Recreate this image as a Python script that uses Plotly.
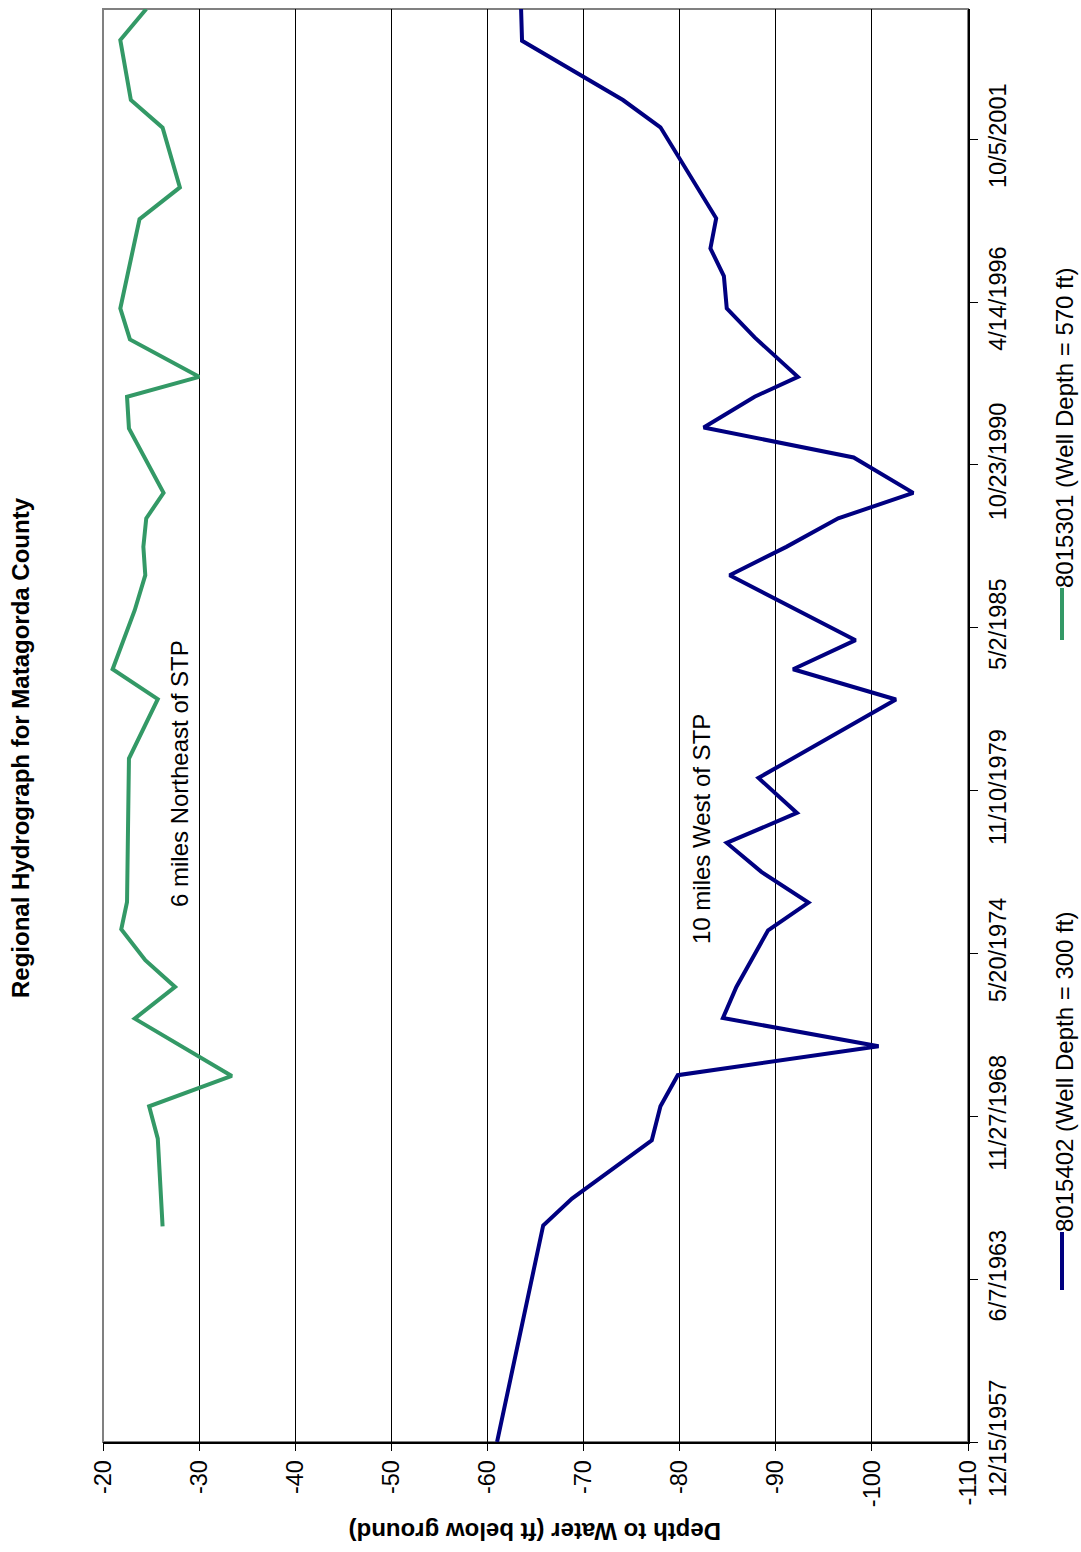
import pandas as pd
import numpy as np
import plotly.graph_objects as go

# Well 8015402 (10 miles west of STP)
dates_8015402 = [
    "1957-12-15", "1965-03-28", "1966-02-21", "1968-02-06", "1969-03-30",
    "1970-04-16", "1971-04-07", "1972-03-18", "1973-04-04", "1975-02-28",
    "1976-02-04", "1977-02-15", "1978-02-06", "1979-02-09", "1980-04-14",
    "1982-12-03", "1983-12-10", "1984-12-01", "1987-02-07", "1988-01-21",
    "1989-01-05", "1989-11-14", "1991-01-23", "1992-01-27", "1993-02-07",
    "1993-10-09", "1995-02-06", "1996-01-27", "1997-02-28", "1998-02-03",
    "1999-02-07", "2002-03-01", "2003-01-30", "2005-01-27", "2006-02-21",
]
depth_8015402 = [
    -61.0, -65.8, -68.8, -77.1, -78.0,
    -79.8, -100.7, -84.5, -85.9, -89.2,
    -93.4, -88.5, -84.9, -92.2, -88.2,
    -102.5, -91.8, -98.3, -85.2, -91.1,
    -96.5, -104.3, -98.1, -82.5, -87.8,
    -92.3, -87.8, -84.9, -84.6, -83.2,
    -83.8, -78.0, -74.1, -63.6, -63.5,
]

# Well 8015301 (6 miles northeast of STP)
dates_8015301 = [
    "1965-03-17", "1968-02-27", "1969-03-30", "1970-04-07", "1972-03-11",
    "1973-04-04", "1974-02-26", "1975-03-13", "1976-02-12", "1980-12-08",
    "1982-12-07", "1983-12-10", "1985-12-04", "1987-02-07", "1988-01-21",
    "1989-01-05", "1989-11-14", "1992-01-14", "1993-02-07", "1993-10-09",
    "1995-01-12", "1996-01-27", "1999-01-29", "2000-02-22", "2002-02-24",
    "2003-01-30", "2005-02-05", "2006-02-21",
]
depth_8015301 = [
    -26.2, -25.7, -24.8, -33.4, -23.3,
    -27.5, -24.4, -21.9, -22.5, -22.7,
    -25.7, -21.0, -23.3, -24.4, -24.2,
    -24.5, -26.3, -22.7, -22.5, -30.0,
    -22.8, -21.8, -23.8, -28.0, -26.2,
    -22.9, -21.8, -24.5,
]

series_names = ["8015402 (Well Depth = 300 ft)", "8015301 (Well Depth = 570 ft)"]
series_colors = ["#000080", "#339966"]

date_tick_labels = ["12/15/1957", "6/7/1963", "11/27/1968", "5/20/1974", "11/10/1979",
                    "5/2/1985", "10/23/1990", "4/14/1996", "10/5/2001"]
depth_ticks = [-20, -30, -40, -50, -60, -70, -80, -90, -100, -110]

date_start = pd.Timestamp("1957-12-15")
date_end = pd.Timestamp("2006-02-21")
date_tick_vals = [date_start + pd.Timedelta(days=2000 * i) for i in range(len(date_tick_labels))]

FONT = "Liberation Sans, Arial, sans-serif"

fig = go.Figure()
fig.add_trace(go.Scatter(x=depth_8015402, y=pd.to_datetime(dates_8015402), mode="lines",
                         line=dict(color=series_colors[0], width=4), name=series_names[0]))
fig.add_trace(go.Scatter(x=depth_8015301, y=pd.to_datetime(dates_8015301), mode="lines",
                         line=dict(color=series_colors[1], width=4), name=series_names[1]))

W, H = 1081, 1552
L, R, T, B = 103, 968, 9, 1442

def px(xp):
    return (xp - L) / (R - L)

def py(yp):
    return (B - yp) / (B - T)

fig.update_layout(
    width=W, height=H,
    margin=dict(l=L, r=W - R, t=T, b=H - B),
    paper_bgcolor="white", plot_bgcolor="white",
    showlegend=False,
    font=dict(family=FONT, color="black", size=24),
)

fig.update_xaxes(
    range=[-20, -110], tickvals=depth_ticks, ticktext=[str(v) for v in depth_ticks],
    tickangle=-90, tickfont=dict(size=23.5, family=FONT, color="black"),
    showgrid=True, gridcolor="black", gridwidth=1,
    showline=True, linecolor="black", linewidth=1.5,
    ticks="outside", ticklen=7, tickcolor="black", tickwidth=1,
    zeroline=False, fixedrange=True,
)
fig.update_yaxes(
    type="date", range=[date_start, date_end], side="right",
    tickvals=date_tick_vals, ticktext=date_tick_labels,
    tickangle=-90, tickfont=dict(size=23.5, family=FONT, color="black"),
    showgrid=False,
    showline=True, linecolor="black", linewidth=1.5,
    ticks="outside", ticklen=8, tickcolor="black", tickwidth=1,
    zeroline=False, fixedrange=True,
)

# plot-area frame
fig.add_shape(type="rect", xref="paper", yref="paper", x0=0, x1=1, y0=0, y1=1,
              line=dict(color="#808080", width=2), layer="below")

# title and axis title
fig.add_annotation(text="<b>Regional Hydrograph for Matagorda County</b>", xref="paper", yref="paper",
                   x=px(20), y=py(748), textangle=-90, showarrow=False,
                   xanchor="center", yanchor="middle", font=dict(size=24, family=FONT))
fig.add_annotation(text="<b>Depth to Water (ft below ground)</b>", xref="paper", yref="paper",
                   x=0.5, y=py(1532), textangle=180, showarrow=False,
                   xanchor="center", yanchor="middle", font=dict(size=24, family=FONT))

# well location notes
fig.add_annotation(text="6 miles Northeast of STP", xref="paper", yref="paper",
                   x=px(179), y=py(774), textangle=-90, showarrow=False,
                   xanchor="center", yanchor="middle", font=dict(size=24, family=FONT))
fig.add_annotation(text="10 miles West of STP", xref="paper", yref="paper",
                   x=px(701), y=py(829), textangle=-90, showarrow=False,
                   xanchor="center", yanchor="middle", font=dict(size=24, family=FONT))

# legend drawn vertically along the right edge
legend_pos = [(1232, 1290), (588, 640)]
for name, color, (ya, yb) in zip(series_names, series_colors, legend_pos):
    fig.add_shape(type="line", xref="paper", yref="paper", x0=px(1062), x1=px(1062),
                  y0=py(yb), y1=py(ya), line=dict(color=color, width=4))
    fig.add_annotation(text=name, xref="paper", yref="paper", x=px(1064), y=py(ya + 2),
                       textangle=-90, showarrow=False, xanchor="center", yanchor="bottom",
                       font=dict(size=24, family=FONT))

fig.write_html("out.html")
